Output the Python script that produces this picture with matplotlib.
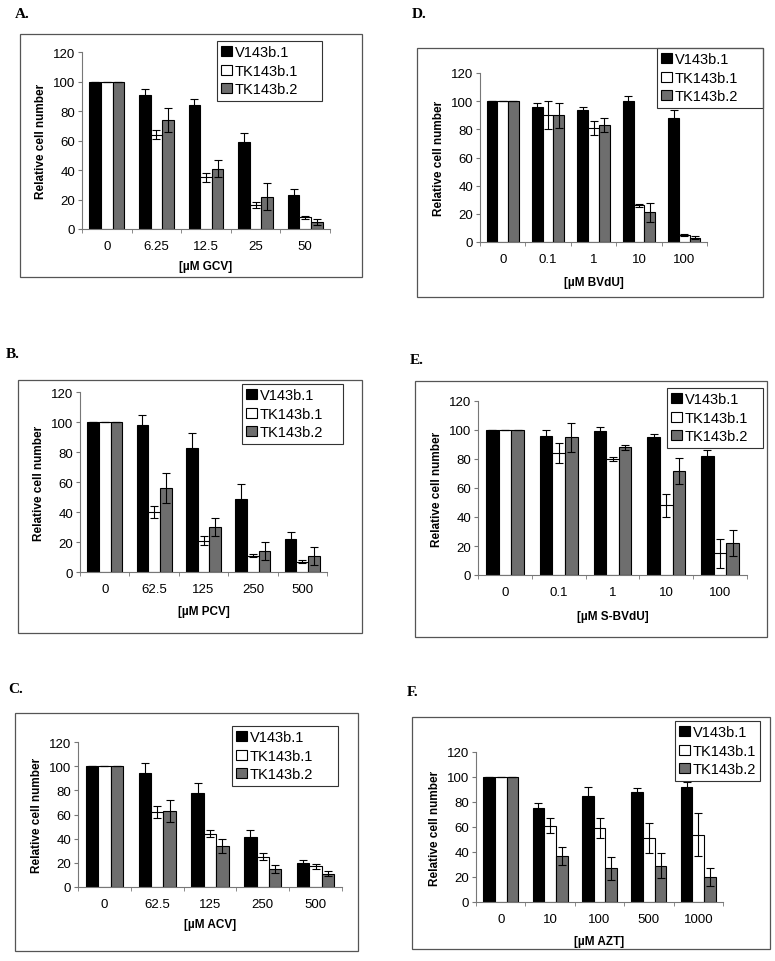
import numpy as np
import matplotlib
matplotlib.use("Agg")
import matplotlib.pyplot as plt
from matplotlib.patches import Rectangle

plt.rcParams['font.family'] = ['Liberation Sans', 'DejaVu Sans']

series = ["V143b.1", "TK143b.1", "TK143b.2"]
colors = ["black", "white", "#6e6e6e"]

# panel A - GCV
gcv_doses = ["0", "6.25", "12.5", "25", "50"]
gcv_v = [100, 91, 84, 59, 23]
gcv_v_err = [0, 4, 4, 6, 4]
gcv_tk1 = [100, 64, 35, 16, 8]
gcv_tk1_err = [0, 3, 3, 2, 1]
gcv_tk2 = [100, 74, 41, 22, 5]
gcv_tk2_err = [0, 8, 6, 9, 2]

# panel B - PCV
pcv_doses = ["0", "62.5", "125", "250", "500"]
pcv_v = [100, 98, 83, 49, 22]
pcv_v_err = [0, 7, 10, 10, 5]
pcv_tk1 = [100, 40, 21, 11, 7]
pcv_tk1_err = [0, 4, 3, 1, 1]
pcv_tk2 = [100, 56, 30, 14, 11]
pcv_tk2_err = [0, 10, 6, 6, 6]

# panel C - ACV
acv_doses = ["0", "62.5", "125", "250", "500"]
acv_v = [100, 94, 78, 41, 20]
acv_v_err = [0, 9, 8, 6, 2]
acv_tk1 = [100, 62, 44, 25, 17]
acv_tk1_err = [0, 5, 3, 3, 2]
acv_tk2 = [100, 63, 34, 15, 11]
acv_tk2_err = [0, 9, 6, 3, 2]

# panel D - BVdU
bvdu_doses = ["0", "0.1", "1", "10", "100"]
bvdu_v = [100, 96, 94, 100, 88]
bvdu_v_err = [0, 3, 2, 4, 6]
bvdu_tk1 = [100, 90, 81, 26, 5]
bvdu_tk1_err = [0, 10, 5, 1, 0.5]
bvdu_tk2 = [100, 90, 83, 21, 3]
bvdu_tk2_err = [0, 9, 5, 7, 1]

# panel E - S-BVdU
sbvdu_doses = ["0", "0.1", "1", "10", "100"]
sbvdu_v = [100, 96, 99, 95, 82]
sbvdu_v_err = [0, 4, 3, 2, 4]
sbvdu_tk1 = [100, 84, 80, 48, 15]
sbvdu_tk1_err = [0, 7, 1.5, 8, 10]
sbvdu_tk2 = [100, 95, 88, 72, 22]
sbvdu_tk2_err = [0, 10, 2, 9, 9]

# panel F - AZT
azt_doses = ["0", "10", "100", "500", "1000"]
azt_v = [100, 75, 85, 88, 92]
azt_v_err = [0, 4, 7, 3, 4]
azt_tk1 = [100, 61, 59, 51, 54]
azt_tk1_err = [0, 6, 8, 12, 17]
azt_tk2 = [100, 37, 27, 29, 20]
azt_tk2_err = [0, 7, 9, 10, 7]

W, H = 775, 962
fig = plt.figure(figsize=(W / 100, H / 100), dpi=100)


def fx(px):
    return px / W


def fy(py):
    return 1 - py / H


def panel(letter, label_xy, box, axbox, legbox, xlabel_y, xlabel, doses, vals, errs):
    # outer frame
    bx0, by0, bx1, by1 = box
    fig.add_artist(Rectangle((fx(bx0), fy(by1)), fx(bx1 - bx0), (by1 - by0) / H,
                             transform=fig.transFigure, fill=False,
                             edgecolor="#555555", lw=0.9))
    fig.text(fx(label_xy[0]), fy(label_xy[1]), letter, family="Liberation Serif",
             fontweight="bold", fontsize=11, va="center", ha="left")

    ax0, ay120, ax1, ay0 = axbox
    ax = fig.add_axes([fx(ax0), fy(ay0), fx(ax1 - ax0), (ay0 - ay120) / H])
    x = np.arange(len(doses))
    bw = 0.235
    handles = []
    for i in range(3):
        b = ax.bar(x + (i - 1) * bw, vals[i], bw, color=colors[i], edgecolor="black",
                   linewidth=0.8, zorder=2)
        handles.append(b)
        ax.errorbar(x + (i - 1) * bw, vals[i], yerr=errs[i], fmt="none",
                    ecolor="black", elinewidth=0.8, capsize=3, capthick=0.8, zorder=3)
    ax.set_xlim(-0.5, len(doses) - 0.5)
    ax.set_ylim(0, 120)
    ax.set_yticks(range(0, 121, 20))
    ax.set_xticks(x)
    ax.set_xticklabels(doses)
    ax.set_xticks(np.arange(-0.5, len(doses), 1.0), minor=True)
    ax.tick_params(axis="x", which="major", length=0, pad=8, labelsize=9.5)
    ax.tick_params(axis="x", which="minor", length=3, color="#777777", direction="out")
    ax.tick_params(axis="y", length=3, color="#777777", labelsize=9.5, pad=2)
    for s in ["top", "right"]:
        ax.spines[s].set_visible(False)
    for s in ["left", "bottom"]:
        ax.spines[s].set_color("#777777")
        ax.spines[s].set_linewidth(0.8)
    ax.set_ylabel("Relative cell number", fontweight="bold", fontsize=8.5, labelpad=4)
    fig.text(fx((ax0 + ax1) / 2), fy(xlabel_y), xlabel, fontweight="bold",
             fontsize=8.5, ha="center", va="center")

    lx0, ly0, lx1, ly1 = legbox
    leg = ax.legend(handles, series, loc="upper left",
                    bbox_to_anchor=(fx(lx0), fy(ly1), fx(lx1 - lx0), (ly1 - ly0) / H),
                    bbox_transform=fig.transFigure, mode="expand",
                    fancybox=False, edgecolor="#333333", fontsize=10.5,
                    handlelength=0.7, handleheight=0.7, handletextpad=0.2,
                    borderpad=0.3, labelspacing=0.3, borderaxespad=0, framealpha=1)
    leg.get_frame().set_linewidth(0.8)
    return ax


panel("A.", (15, 14), (20, 35, 362, 278), (82, 53, 330, 230), (217, 42, 322, 108),
      267, "[µM GCV]", gcv_doses,
      [gcv_v, gcv_tk1, gcv_tk2], [gcv_v_err, gcv_tk1_err, gcv_tk2_err])
panel("B.", (6, 355), (18, 381, 362, 634), (80, 393, 327, 573), (242, 385, 343, 453),
      612, "[µM PCV]", pcv_doses,
      [pcv_v, pcv_tk1, pcv_tk2], [pcv_v_err, pcv_tk1_err, pcv_tk2_err])
panel("C.", (8, 690), (15, 714, 358, 952), (78, 743, 342, 888), (232, 727, 338, 793),
      925, "[µM ACV]", acv_doses,
      [acv_v, acv_tk1, acv_tk2], [acv_v_err, acv_tk1_err, acv_tk2_err])
panel("D.", (412, 15), (417, 49, 763, 298), (480, 74, 707, 243), (657, 49, 763, 109),
      283, "[µM BVdU]", bvdu_doses,
      [bvdu_v, bvdu_tk1, bvdu_tk2], [bvdu_v_err, bvdu_tk1_err, bvdu_tk2_err])
panel("E.", (410, 360), (415, 382, 767, 638), (478, 402, 747, 576), (667, 389, 763, 447),
      617, "[µM S-BVdU]", sbvdu_doses,
      [sbvdu_v, sbvdu_tk1, sbvdu_tk2], [sbvdu_v_err, sbvdu_tk1_err, sbvdu_tk2_err])
panel("F.", (407, 692), (412, 718, 770, 950), (476, 753, 723, 903), (675, 722, 760, 785),
      942, "[µM AZT]", azt_doses,
      [azt_v, azt_tk1, azt_tk2], [azt_v_err, azt_tk1_err, azt_tk2_err])

fig.savefig("out.png", dpi=100)
